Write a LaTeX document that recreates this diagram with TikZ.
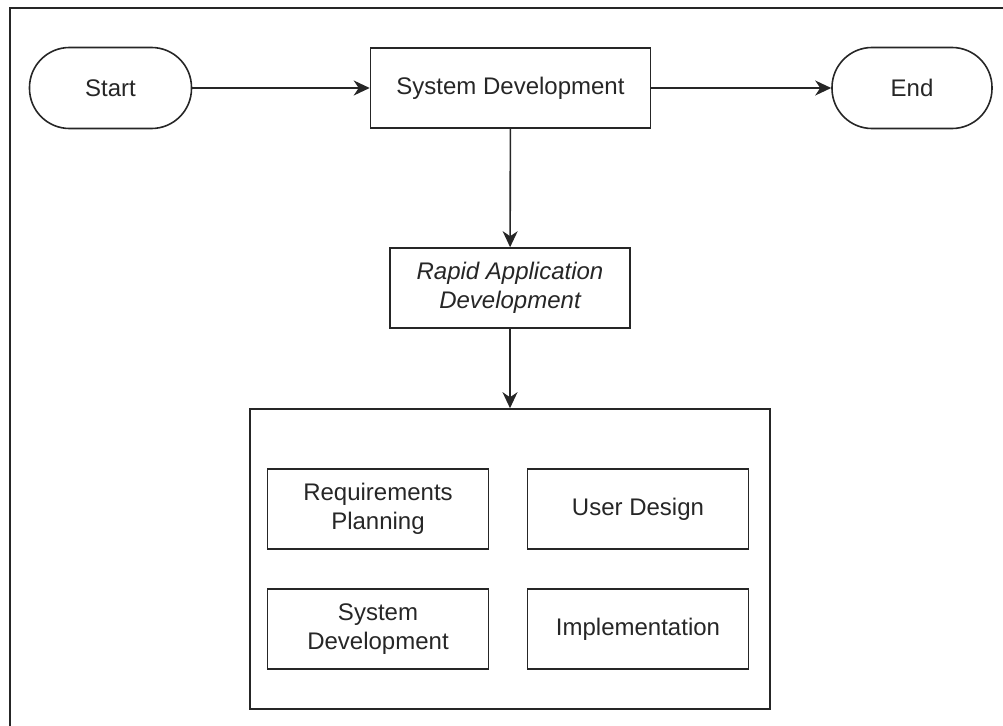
\documentclass[tikz,border=0pt]{standalone}
\usepackage{fontspec}
\setmainfont{Liberation Sans}
\usetikzlibrary{arrows.meta}
\begin{document}
\begin{tikzpicture}[x=1pt,y=-1pt,
  every node/.style={font=\fontsize{24}{29}\selectfont, text=black!85, align=center, inner sep=0pt},
  line/.style={draw=black!85, line width=1.6pt},
  terminal/.style={line, rounded corners=40pt, minimum width=162pt, minimum height=81pt},
  procbox/.style={line, minimum width=280pt, minimum height=80pt},
  phase/.style={line, minimum width=221pt, minimum height=80pt},
  flow/.style={line, -{Stealth[length=16pt,width=15pt,inset=5pt]}}]
\useasboundingbox (0,0) rectangle (1003,725);
\clip (0,0) rectangle (1003,725);
% page frame
\draw[line] (10,8) rectangle (1020,740);

\node[terminal] (start) at (110.5,88) {Start};
\node[procbox] (sysdev) at (510.5,88) {System Development};
\node[terminal, minimum width=160pt] (end) at (912,88) {End};
\node[line, minimum width=240pt, minimum height=80pt] (rad) at (510,288)
  {\itshape Rapid Application\\\itshape Development};
\node[line, minimum width=520pt, minimum height=300pt] (phases) at (510,559) {};

\node[phase] (req) at (378,509) {Requirements\\Planning};
\node[phase] (design) at (638,509) {User Design};
\node[phase] (build) at (378,629) {System\\Development};
\node[phase] (impl) at (638,629) {Implementation};

\draw[flow] (start) -- (sysdev);
\draw[flow] (sysdev) -- (end);
\draw[flow] (sysdev) -- (rad);
\draw[flow] (rad) -- (phases);
\end{tikzpicture}
\end{document}
